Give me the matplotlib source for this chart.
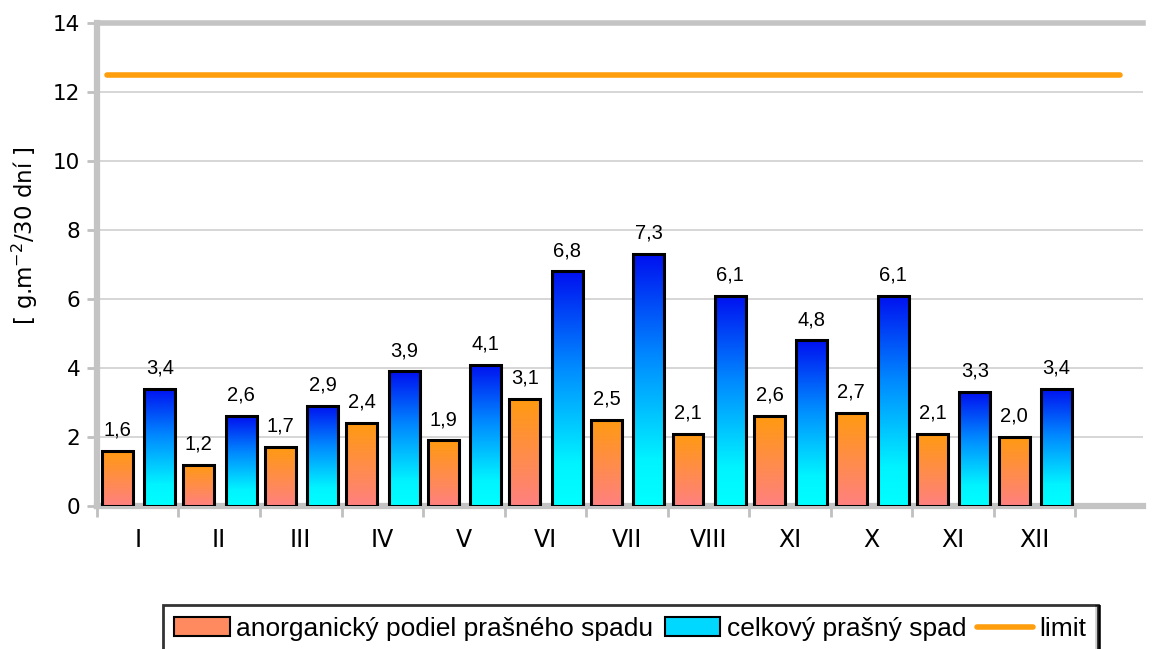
import matplotlib
matplotlib.use("Agg")
import matplotlib.pyplot as plt
import numpy as np
from matplotlib.colors import LinearSegmentedColormap
from matplotlib.patches import Rectangle
from matplotlib.lines import Line2D

months = ['I', 'II', 'III', 'IV', 'V', 'VI', 'VII', 'VIII', 'XI', 'X', 'XI', 'XII']
anorganic = [1.6, 1.2, 1.7, 2.4, 1.9, 3.1, 2.5, 2.1, 2.6, 2.7, 2.1, 2.0]
total = [3.4, 2.6, 2.9, 3.9, 4.1, 6.8, 7.3, 6.1, 4.8, 6.1, 3.3, 3.4]
limit = 12.5

# gradients: bottom -> top
cmap_orange = LinearSegmentedColormap.from_list('org', ['#ff8080', '#ff9a10'])
cmap_blue = LinearSegmentedColormap.from_list(
    'blu', [(0, '#00ffff'), (0.18, '#00f4ff'), (0.6, '#0088ff'), (1, '#0010f0')])

fig = plt.figure(figsize=(11.57, 6.49), dpi=100)
ax = fig.add_axes([0.0838, 0.2203, 0.904, 0.7443])

n = len(months)
x = np.arange(n)
width = 0.38

grad = np.linspace(0, 1, 256).reshape(-1, 1)

def gradient_bars(xpos, values, cmap):
    bars = ax.bar(xpos, values, width, facecolor='none', edgecolor='black',
                  linewidth=2.2, zorder=4)
    for b in bars:
        x0, y0 = b.get_x(), b.get_y()
        w, h = b.get_width(), b.get_height()
        im = ax.imshow(grad, extent=[x0, x0 + w, y0, y0 + h], origin='lower',
                       aspect='auto', cmap=cmap, zorder=3)
        im.set_clip_path(b)
    return bars

b1 = gradient_bars(x + 0.25, anorganic, cmap_orange)
b2 = gradient_bars(x + 0.77, total, cmap_blue)

for bars, vals in ((b1, anorganic), (b2, total)):
    for b, v in zip(bars, vals):
        ax.text(b.get_x() + b.get_width() / 2, v + 0.33, f'{v:.1f}'.replace('.', ','),
                ha='center', va='bottom', fontsize=14.5, family='Liberation Sans', zorder=5)

ax.plot([0.12, 12.55], [limit, limit], color='#ff9e0d', linewidth=4,
        solid_capstyle='round', zorder=5)

ax.set_xlim(0, 12.83)
ax.set_ylim(0, 14)
ax.set_yticks(range(0, 15, 2))
ax.set_xticks(range(0, n + 1))
ax.set_xticklabels([])
ax.set_xticks(x + 0.5, minor=True)
ax.set_xticklabels(months, minor=True, fontsize=17, family='DejaVu Sans')
ax.tick_params(axis='x', which='minor', length=0, pad=16)
ax.tick_params(axis='x', which='major', length=8, width=2, color='#c0c0c0')
ax.tick_params(axis='y', length=7, width=2, color='#c0c0c0', labelsize=15.5, pad=5)
for lab in ax.get_yticklabels():
    lab.set_family(['DejaVu Sans Condensed', 'DejaVu Sans'])

ax.grid(axis='y', color='#d0d0d0', linewidth=1.2, zorder=0)
ax.set_axisbelow(True)
ax.spines['right'].set_visible(False)
ax.spines['top'].set_color('#c4c4c4')
ax.spines['top'].set_linewidth(4)
for s in ('left', 'bottom'):
    ax.spines[s].set_color('#c4c4c4')
    ax.spines[s].set_linewidth(4.5)

ax.set_ylabel('[ g.m$^{\\mathregular{-2}}$/30 dní ]', fontsize=16.5)
ax.yaxis.set_label_coords(-0.054, 0.56)

# legend
handles = [
    Rectangle((0, 0), 1, 1, facecolor='#ff8a60', edgecolor='black', linewidth=1.5),
    Rectangle((0, 0), 1, 1, facecolor='#00d8ff', edgecolor='black', linewidth=1.5),
    Line2D([0], [0], color='#ff9e0d', linewidth=4, solid_capstyle='round'),
]
labels = ['anorganický podiel prašného spadu', 'celkový prašný spad', 'limit']
leg = fig.legend(handles, labels, loc='upper left', bbox_to_anchor=(0.1405, 0.068),
                 ncol=3, frameon=True, fancybox=False, shadow=False,
                 prop={'family': 'Liberation Sans', 'size': 19},
                 handlelength=2.1, handleheight=0.7, handletextpad=0.25,
                 columnspacing=0.42, borderpad=0.45, borderaxespad=0)
leg.get_frame().set_edgecolor('black')
leg.get_frame().set_linewidth(2)

# thick right edge of the legend box
fig.canvas.draw()
bb = leg.get_window_extent().transformed(fig.transFigure.inverted())
fig.add_artist(Line2D([bb.x1, bb.x1], [bb.y0, bb.y1], color='black', linewidth=4,
                      solid_capstyle='butt', transform=fig.transFigure))

fig.savefig('out.png', dpi=100)
